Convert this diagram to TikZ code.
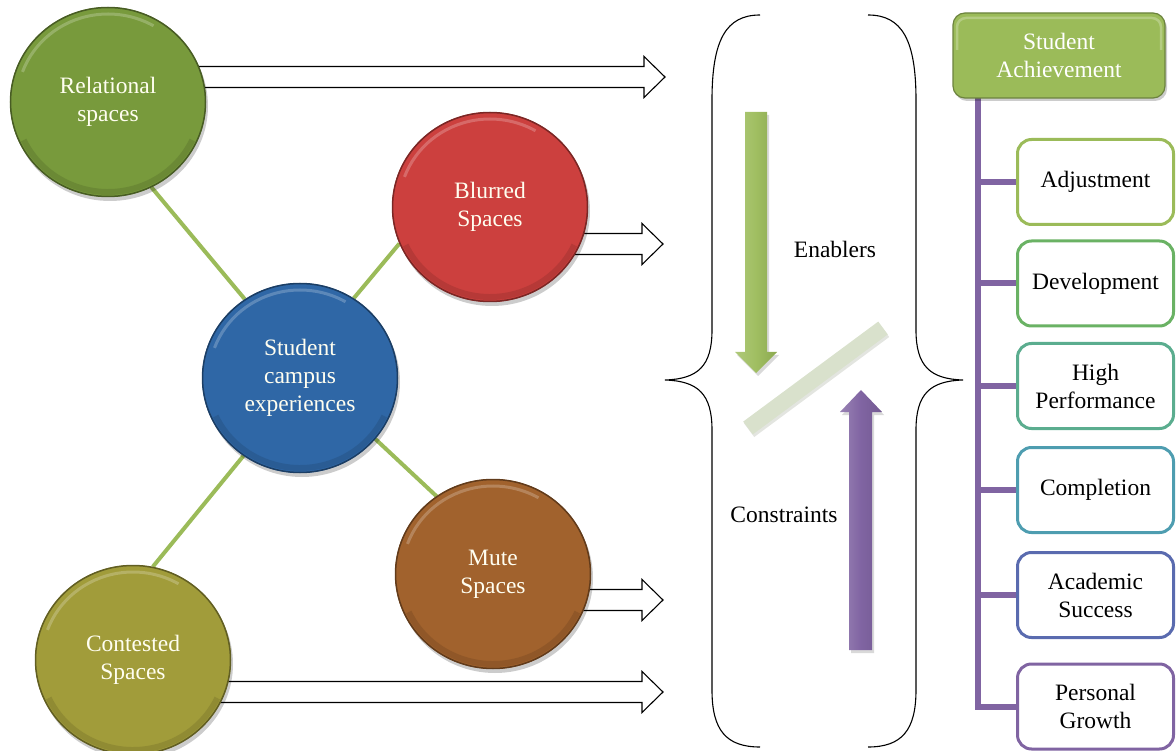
\documentclass[tikz,border=0pt]{standalone}
\usepackage{fontspec}
\setmainfont{Liberation Serif}
\usetikzlibrary{shapes.geometric,calc,backgrounds}

\definecolor{relc}{HTML}{789A3C}
\definecolor{blurc}{HTML}{CC403E}
\definecolor{stuc}{HTML}{2F67A6}
\definecolor{mutec}{HTML}{A1622D}
\definecolor{conc}{HTML}{A19C3A}
\definecolor{linkc}{HTML}{9BBB59}
\definecolor{enc}{HTML}{9BBB59}
\definecolor{purc}{HTML}{8064A2}
\definecolor{barc}{HTML}{D9E1CC}
\definecolor{gA}{HTML}{9BBB59}
\definecolor{gB}{HTML}{6AB264}
\definecolor{gC}{HTML}{5BAD8F}
\definecolor{gD}{HTML}{4E9DB0}
\definecolor{gE}{HTML}{5A6BAF}
\definecolor{gF}{HTML}{8064A2}

\newcommand\bigtext{\fontsize{23.5}{28}\selectfont}

\tikzset{
  bubble/.style={ellipse, minimum width=196, minimum height=190, inner sep=0,
    align=center, text=white!94!yellow, font=\bigtext},
  link/.style={draw=linkc, line width=4},
  hollow/.style={draw=black, line width=1.1, fill=white, line join=miter},
  brace/.style={draw=black, line width=1.1},
  goal/.style={rectangle, rounded corners=14, draw, line width=3, fill=white,
    minimum width=156, minimum height=85, align=center, font=\bigtext},
  tree/.style={draw=purc, line width=6, line join=miter},
  plain/.style={font=\bigtext},
}

% a bevelled disc: name, x, y (downwards), colour, text
\newcommand\bubbleat[5]{%
  \fill[black, opacity=.2] (#2+2,-#3-4) ellipse [x radius=98, y radius=95];
  \node[bubble, fill=#4] (#1) at (#2,-#3) {#5};
  \draw[#4!60!black, line width=1.5] (#1.center) ellipse [x radius=97.5, y radius=94.5];
  \draw[#4!65!black, opacity=.3, line width=6] (#1.center) ++(205:93 and 90)
    arc[start angle=205, end angle=335, x radius=93, y radius=90];
  \draw[white, opacity=.22, line width=3] (#1.center) ++(160:91 and 88)
    arc[start angle=160, end angle=60, x radius=91, y radius=88];
}

% hollow block arrow from a disc to a tip coordinate
\newcommand\hollowarrow[2]{%
  \draw[hollow] ($(#1.center |- #2)+(0,10.5)$) -- ($(#2)+(-21,10.5)$)
    -- ($(#2)+(-21,20.5)$) -- (#2) -- ($(#2)+(-21,-20.5)$)
    -- ($(#2)+(-21,-10.5)$) -- ($(#1.center |- #2)+(0,-10.5)$);
}

\begin{document}
\begin{tikzpicture}[x=1pt, y=1pt]
\useasboundingbox (0,0) rectangle (1176,-751);

% ---- discs ----
\bubbleat{rel}{108}{102}{relc}{Relational\\spaces}
\bubbleat{blur}{490}{207}{blurc}{Blurred\\Spaces}
\bubbleat{stu}{300}{378}{stuc}{Student\\campus\\experiences}
\bubbleat{mute}{493}{574}{mutec}{Mute\\Spaces}
\bubbleat{con}{133}{660}{conc}{Contested\\Spaces}

% ---- tips of the hollow arrows ----
\coordinate (t1) at (665,-77);
\coordinate (t2) at (663,-244);
\coordinate (t3) at (663,-600);
\coordinate (t4) at (663,-692);

% ---- braces ----
\draw[brace] (760,-15) .. controls (726,-15) and (712,-40) .. (712,-100)
  -- (712,-330) .. controls (712,-366) and (698,-379) .. (665,-380)
  .. controls (698,-381) and (712,-394) .. (712,-430)
  -- (712,-690) .. controls (712,-730) and (726,-747) .. (760,-747);
\draw[brace] (868,-15) .. controls (902,-15) and (916,-40) .. (916,-100)
  -- (916,-330) .. controls (916,-366) and (930,-379) .. (963,-380)
  .. controls (930,-381) and (916,-394) .. (916,-430)
  -- (916,-690) .. controls (916,-730) and (902,-747) .. (868,-747);

% ---- enablers / constraints ----
\fill[black, opacity=.15] (747,-115) -- (769,-115) -- (769,-355) -- (779,-355)
  -- (758,-376) -- (737,-355) -- (747,-355) -- cycle;
\shade[left color=enc!80!white, right color=enc!90!black, middle color=enc!95!white]
  (745,-112) -- (767,-112) -- (767,-352) -- (777,-352) -- (756,-373)
  -- (735,-352) -- (745,-352) -- cycle;
\draw[barc!75!black, opacity=.3, line width=17.5] (749,-430) -- (884,-330);
\draw[barc, line width=16] (748,-428) -- (883,-328);
\fill[black, opacity=.15] (851,-653) -- (851,-415) -- (842,-415) -- (863,-393)
  -- (884,-415) -- (874,-415) -- (874,-653) -- cycle;
\shade[left color=purc!80!white, right color=purc!90!black, middle color=purc]
  (849,-650) -- (849,-412) -- (840,-412) -- (861,-390) -- (882,-412)
  -- (872,-412) -- (872,-650) -- cycle;
\node[plain] (en) at (835,-249) {Enablers};
\node[plain] (cs) at (784,-515) {Constraints};

% ---- achievement tree ----
\fill[black, opacity=.2, rounded corners=12] (955,-16) rectangle (1167,-101);
\node[rectangle, rounded corners=12, fill=enc, draw=enc!70!black, line width=1.2,
  minimum width=212, minimum height=85, align=center, text=white, font=\bigtext]
  (sa) at (1059,-55.5) {Student\\Achievement};
\draw[white, opacity=.25, line width=2.5, rounded corners=9]
  (957,-50) -- (957,-18) -- (1161,-18) -- (1161,-50);
\coordinate (trunk) at (978,-98);

\node[goal, draw=gA] (adj) at (1095.5,-182) {Adjustment};
\node[goal, draw=gB] (dev) at (1095.5,-283.5) {Development};
\node[goal, draw=gC] (hp)  at (1095.5,-386) {High\\Performance};
\node[goal, draw=gD] (cmp) at (1095.5,-490) {Completion};
\node[goal, draw=gE] (as)  at (1095.5,-595) {Academic\\Success};
\node[goal, draw=gF] (pg)  at (1095.5,-706.5) {Personal\\Growth};

\begin{pgfonlayer}{background}
  % links between the discs
  \draw[link] (rel.-63) -- (stu.125);
  \draw[link] (blur.-158) -- (stu.56);
  \draw[link] (stu.-126) -- (con.78);
  \draw[link] (stu.-39) -- (mute.126);
  % hollow arrows towards the brace
  \hollowarrow{rel}{t1}
  \hollowarrow{blur}{t2}
  \hollowarrow{mute}{t3}
  \hollowarrow{con}{t4}
  % tree branches
  \draw[tree] (trunk) |- (pg.west);
  \foreach \b in {adj,dev,hp,cmp,as}
    \draw[tree] (trunk |- \b.west) -- (\b.west);
\end{pgfonlayer}
\end{tikzpicture}
\end{document}
